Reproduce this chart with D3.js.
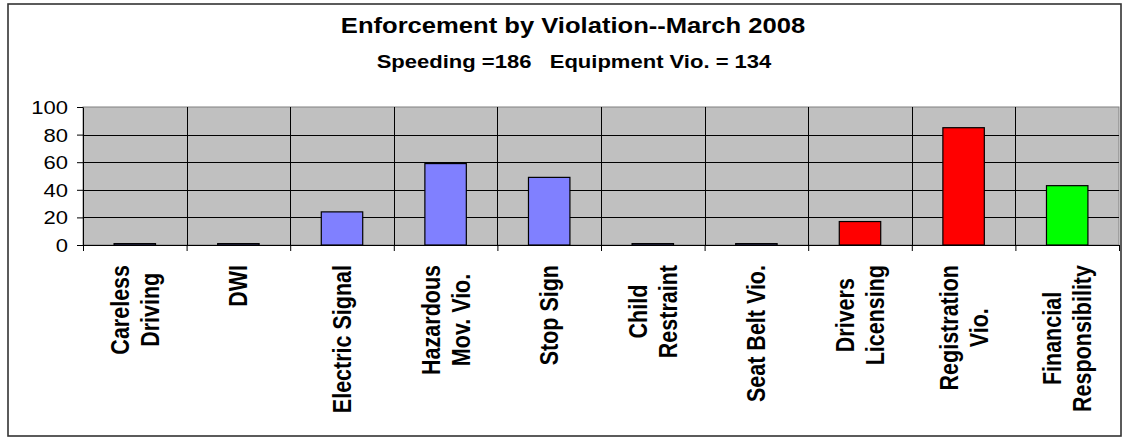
<!DOCTYPE html>
<html>
<head>
<meta charset="utf-8">
<script src="https://cdn.jsdelivr.net/npm/d3@7"></script>
<style>
  body { margin: 0; background: #fff; }
  svg { display: block; font-family: "Liberation Sans", Arial, sans-serif; }
</style>
</head>
<body>
<svg id="chart"></svg>
<script>
var categories = [
    ['Careless', 'Driving'],
    ['DWI'],
    ['Electric Signal'],
    ['Hazardous', 'Mov. Vio.'],
    ['Stop Sign'],
    ['Child', 'Restraint'],
    ['Seat Belt Vio.'],
    ['Drivers', 'Licensing'],
    ['Registration', 'Vio.'],
    ['Financial', 'Responsibility']
];
var values = [1, 1, 24, 59, 49, 1, 1, 17, 85, 43];
var barColors = ['#8080ff', '#8080ff', '#8080ff', '#8080ff', '#8080ff',
    '#8080ff', '#8080ff', '#ff0000', '#ff0000', '#00ff00'];
var yTicks = [0, 20, 40, 60, 80, 100];
var title = 'Enforcement by Violation--March 2008';
var subtitle = 'Speeding =186   Equipment Vio. = 134';

var width = 1129,
    height = 440,
    plotLeft = 83,
    plotRight = 1119,
    plotTop = 107,
    plotBottom = 245,
    stretch = 1.19;   // the original picture is widened horizontally

var svg = d3.select('svg#chart')
    .attr('width', width)
    .attr('height', height);

// outer frame
svg.append('rect')
    .attr('x', 8)
    .attr('y', 4)
    .attr('width', 1113)
    .attr('height', 432)
    .attr('fill', 'white')
    .attr('stroke', '#333')
    .attr('stroke-width', 1.6);

var x = d3.scaleBand()
    .domain(d3.range(categories.length))
    .range([plotLeft, plotRight]);
var xEdge = d3.scaleLinear()
    .domain([0, categories.length])
    .range([plotLeft, plotRight]);
var y = d3.scaleLinear()
    .domain([0, 100])
    .range([plotBottom, plotTop]);

// plot area
svg.append('rect')
    .attr('x', plotLeft)
    .attr('y', plotTop)
    .attr('width', plotRight - plotLeft)
    .attr('height', plotBottom - plotTop)
    .attr('fill', '#c0c0c0')
    .attr('stroke', '#808080')
    .attr('stroke-width', 1);

svg.append('g')
    .selectAll('line')
    .data(yTicks.filter(function(d) { return d > 0 && d < 100; }))
    .join('line')
    .attr('x1', plotLeft)
    .attr('x2', plotRight)
    .attr('y1', function(d) { return Math.round(y(d)) + 0.5; })
    .attr('y2', function(d) { return Math.round(y(d)) + 0.5; })
    .attr('stroke', 'black');

svg.append('g')
    .selectAll('line')
    .data(d3.range(1, categories.length))
    .join('line')
    .attr('x1', function(d) { return Math.round(xEdge(d)) + 0.5; })
    .attr('x2', function(d) { return Math.round(xEdge(d)) + 0.5; })
    .attr('y1', plotTop)
    .attr('y2', plotBottom)
    .attr('stroke', 'black');

// bars
var barWidth = x.bandwidth() * 0.4;
svg.append('g')
    .selectAll('rect')
    .data(values)
    .join('rect')
    .attr('x', function(d, i) { return x(i) + (x.bandwidth() - barWidth) / 2; })
    .attr('y', function(d) { return y(d); })
    .attr('width', barWidth)
    .attr('height', function(d) { return y(0) - y(d); })
    .attr('fill', function(d, i) { return barColors[i]; })
    .attr('stroke', 'black')
    .attr('stroke-width', 1.2);

// y axis
var yAxis = svg.append('g')
    .attr('transform', 'translate(' + plotLeft + ',0)')
    .call(d3.axisLeft(y).tickValues(yTicks).tickSize(6).tickSizeOuter(0));
yAxis.select('.domain').attr('stroke', 'black');
yAxis.selectAll('.tick line').attr('stroke', 'black');
yAxis.selectAll('.tick text')
    .attr('x', null)
    .attr('dy', '0.35em')
    .attr('transform', 'translate(-15,0) scale(' + stretch + ',1)')
    .attr('fill', 'black')
    .style('font-size', '18.5px')
    .style('font-family', '"Liberation Sans", Arial, sans-serif');

// x axis (ticks at category edges)
var xAxis = svg.append('g')
    .attr('transform', 'translate(0,' + plotBottom + ')')
    .call(d3.axisBottom(xEdge).ticks(categories.length).tickSize(6)
        .tickSizeOuter(0).tickFormat(''));
xAxis.select('.domain').attr('stroke', 'black');
xAxis.selectAll('.tick line').attr('stroke', 'black');

// category labels, rotated and centred in blocks
var labelTop = 265,
    lineGap = 30;
categories.forEach(function(lines, i) {
    var cx = x(i) + x.bandwidth() / 2;
    var texts = lines.map(function(line, j) {
        var px = cx + (j - (lines.length - 1) / 2) * lineGap;
        return svg.append('text')
            .attr('text-anchor', 'middle')
            .attr('dy', '0.35em')
            .attr('font-weight', 'bold')
            .style('font-size', '21.5px')
            .attr('data-x', px)
            .text(line);
    });
    var longest = d3.max(texts, function(t) { return t.node().getComputedTextLength(); });
    texts.forEach(function(t) {
        t.attr('transform', 'translate(' + t.attr('data-x') + ',' + (labelTop + longest / 2) +
            ') scale(' + stretch + ',1) rotate(-90)');
    });
});

// titles
svg.append('text')
    .attr('transform', 'translate(573,33) scale(' + stretch + ',1)')
    .attr('text-anchor', 'middle')
    .attr('font-weight', 'bold')
    .style('font-size', '21.5px')
    .text(title);

svg.append('text')
    .attr('transform', 'translate(574,67.5) scale(' + stretch + ',1)')
    .attr('text-anchor', 'middle')
    .attr('font-weight', 'bold')
    .style('font-size', '18.5px')
    .style('white-space', 'pre')
    .text(subtitle);
</script>
</body>
</html>
